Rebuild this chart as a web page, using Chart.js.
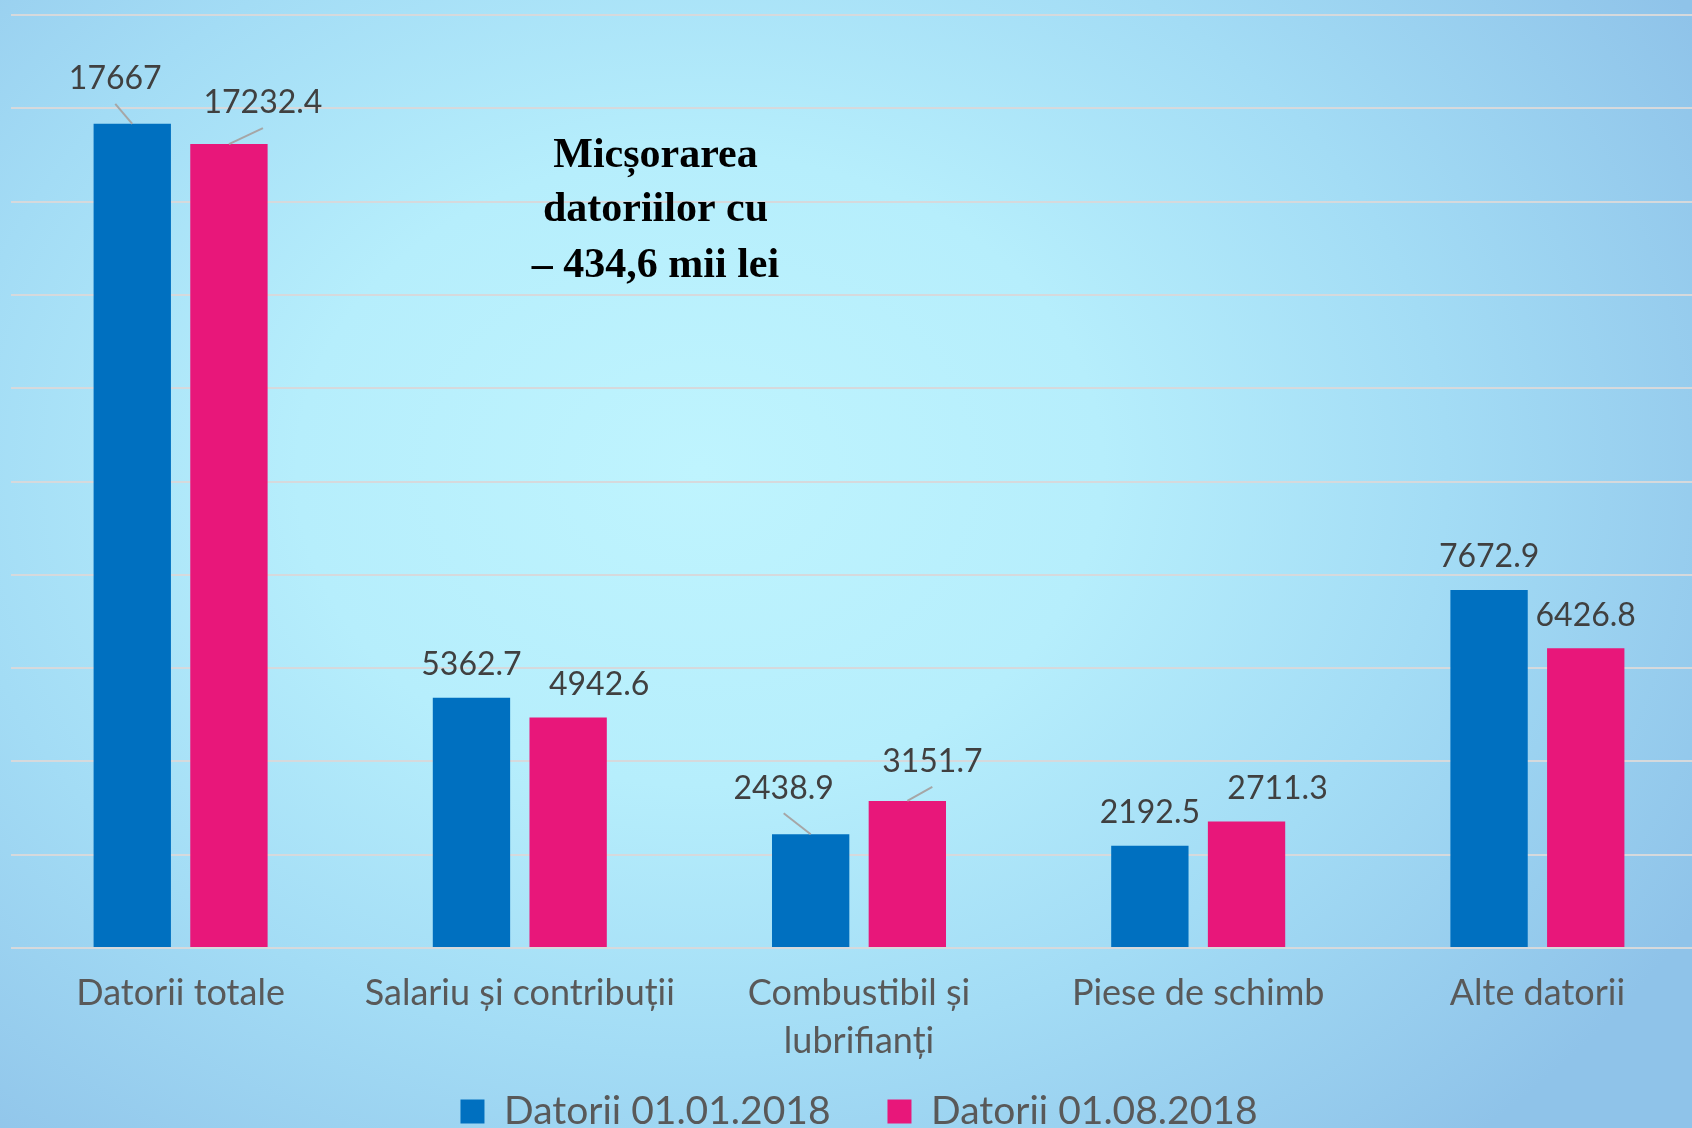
<!DOCTYPE html>
<html>
<head>
<meta charset="utf-8">
<script src="https://cdn.jsdelivr.net/npm/chart.js@4.4.0/dist/chart.umd.min.js"></script>
<style>
html, body { margin: 0; padding: 0; overflow: hidden; }
body {
  width: 1692px; height: 1128px;
  background: radial-gradient(ellipse 1150px 900px at 700px 470px, #bff4fe 0%, #b6eefc 35%, #a3dcf5 65%, #8fc3e9 100%);
}
#wrap { position: relative; width: 1710px; height: 1141px; }
</style>
</head>
<body>
<div id="wrap"><canvas id="chart_datorii"></canvas></div>
<script>
const categories = ['Datorii totale', 'Salariu și contribuții', ['Combustibil și', 'lubrifianți'], 'Piese de schimb', 'Alte datorii'];
const seriesNames = ['Datorii 01.01.2018', 'Datorii 01.08.2018'];
const datoriiIanuarie = [17667, 5362.7, 2438.9, 2192.5, 7672.9];
const datoriiAugust = [17232.4, 4942.6, 3151.7, 2711.3, 6426.8];
const yMin = 0, yMax = 20000, yStep = 2000;
const noteLines = ['Micșorarea', 'datoriilor cu', '– 434,6 mii lei'];

// labels moved off their default spot: 'dataset-index' -> [dx, dy, leader line?]
const movedLabels = {
  '0-0': [-17, -45, true], '1-0': [34, -41, true],
  '0-2': [-27, -46, true], '1-2': [25, -39, true],
  '1-1': [31, -33, false], '1-3': [31, -33, false]
};

const valueLabels = {
  id: 'valueLabels',
  afterDatasetsDraw(chart) {
    const ctx = chart.ctx;
    ctx.save();
    ctx.font = '32px Lato';
    ctx.textAlign = 'center';
    ctx.textBaseline = 'middle';
    chart.data.datasets.forEach((ds, di) => {
      chart.getDatasetMeta(di).data.forEach((bar, i) => {
        const off = movedLabels[di + '-' + i] || [0, -33, false];
        const lx = bar.x + off[0], ly = bar.y + off[1];
        if (off[2]) {
          ctx.strokeStyle = '#a6a6a6';
          ctx.lineWidth = 2;
          ctx.beginPath();
          ctx.moveTo(lx, ly + 25);
          ctx.lineTo(bar.x, bar.y);
          ctx.stroke();
        }
        ctx.fillStyle = '#404040';
        ctx.fillText(String(ds.data[i]), lx, ly);
      });
    });
    ctx.restore();
  }
};

const noteText = {
  id: 'noteText',
  afterDraw(chart) {
    const ctx = chart.ctx;
    ctx.save();
    ctx.font = 'bold 42px "Liberation Serif"';
    ctx.fillStyle = '#000000';
    ctx.textAlign = 'center';
    ctx.textBaseline = 'alphabetic';
    const x = chart.scales.x.getPixelForValue(1.4);
    const baselines = [167, 221, 277];
    noteLines.forEach((t, k) => ctx.fillText(t, x, baselines[k]));
    ctx.restore();
  }
};

const chart_datorii = new Chart(document.getElementById('chart_datorii'), {
  type: 'bar',
  data: {
    labels: categories,
    datasets: [
      { label: seriesNames[0], data: datoriiIanuarie, backgroundColor: '#0070c0', categoryPercentage: 0.57, barPercentage: 0.8 },
      { label: seriesNames[1], data: datoriiAugust, backgroundColor: '#e8177a', categoryPercentage: 0.57, barPercentage: 0.8 }
    ]
  },
  options: {
    animation: false,
    responsive: true,
    maintainAspectRatio: false,
    layout: { padding: { left: 11, right: 3, top: 15, bottom: 0 } },
    plugins: {
      tooltip: { enabled: false },
      legend: {
        position: 'bottom',
        labels: {
          font: { family: 'Lato', size: 39 },
          color: '#595959',
          boxWidth: 24,
          boxHeight: 24,
          padding: 27,
          generateLabels: (chart) => {
            const items = Chart.defaults.plugins.legend.labels.generateLabels(chart);
            // wider gap between the two entries
            items[0].text = items[0].text + '   ';
            return items;
          }
        }
      }
    },
    scales: {
      x: {
        grid: { display: false, drawTicks: false },
        border: { display: false },
        ticks: {
          font: { family: 'Lato', size: 36, lineHeight: 1.333 },
          color: '#595959',
          padding: 21,
          maxRotation: 0
        },
        afterFit: (scale) => { scale.height = 117; }
      },
      y: {
        min: yMin,
        max: yMax,
        ticks: { display: false, stepSize: yStep },
        grid: { color: '#d6d9dc', lineWidth: 2, drawTicks: false },
        border: { display: false }
      }
    }
  },
  plugins: [valueLabels, noteText]
});
</script>
</body>
</html>
